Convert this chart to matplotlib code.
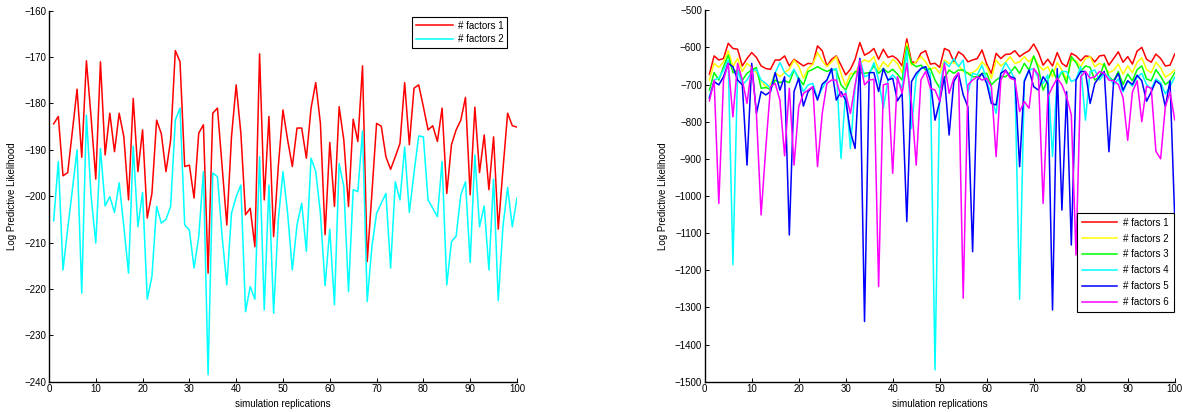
import numpy as np
import matplotlib
matplotlib.use('Agg')
import matplotlib.pyplot as plt

plt.rcParams['font.family'] = ['Liberation Sans', 'DejaVu Sans']
plt.rcParams['font.size'] = 7

reps = np.arange(1, 101)

# left panel: 1 and 2 factors
left_f1 = [-184.4, -182.8, -195.6, -194.9, -186.0, -176.9, -191.6, -170.8, -183.0, -196.3,
           -171.0, -191.1, -182.1, -190.4, -182.1, -187.2, -200.8, -178.9, -194.7, -185.7,
           -204.7, -199.4, -183.6, -186.5, -194.7, -187.9, -168.6, -171.0, -193.6, -193.3,
           -200.4, -186.4, -184.6, -216.6, -182.1, -181.0, -193.6, -206.2, -187.2, -176.0,
           -186.4, -204.0, -202.6, -210.9, -169.3, -200.8, -182.8, -208.7, -193.6, -181.4,
           -187.9, -193.6, -185.3, -185.3, -191.8, -181.0, -175.5, -184.3, -208.3, -188.4,
           -202.2, -180.7, -187.9, -202.2, -183.4, -188.2, -171.9, -214.1, -199.4, -184.3,
           -184.9, -191.5, -194.2, -191.5, -188.6, -175.5, -188.9, -176.7, -176.0, -180.7,
           -185.7, -184.8, -188.2, -181.0, -199.4, -188.9, -185.7, -183.6, -178.7, -199.7,
           -180.8, -194.9, -186.8, -198.6, -187.2, -207.1, -194.3, -182.1, -184.8, -185.1]
left_f2 = [-205.3, -192.5, -215.9, -207.0, -198.6, -190.0, -220.9, -182.5, -200.0, -210.1,
           -189.7, -202.1, -200.1, -203.5, -197.1, -206.6, -216.6, -189.2, -206.6, -199.2,
           -222.2, -217.3, -202.2, -205.8, -205.0, -202.2, -183.6, -181.0, -206.2, -207.3,
           -215.5, -208.7, -194.7, -238.5, -195.0, -195.8, -208.7, -219.1, -203.7, -200.1,
           -197.6, -224.9, -219.5, -222.2, -191.5, -224.5, -197.6, -225.2, -205.1, -194.7,
           -203.7, -215.9, -206.2, -201.5, -211.9, -191.8, -194.7, -203.7, -219.3, -207.1,
           -223.4, -193.0, -197.9, -220.6, -198.6, -199.0, -185.9, -222.7, -210.9, -203.7,
           -201.5, -199.4, -215.5, -196.9, -200.8, -189.4, -203.5, -195.0, -187.0, -187.2,
           -200.8, -202.6, -204.4, -192.5, -219.1, -209.8, -208.6, -199.7, -196.9, -214.3,
           -191.1, -206.6, -202.1, -215.9, -196.3, -222.5, -206.6, -198.1, -206.6, -200.4]

# right panel: 1 to 6 factors
right_f1 = [-672, -623, -634, -630, -589, -603, -605, -650, -630, -614,
            -627, -650, -657, -659, -634, -634, -623, -650, -632, -641,
            -650, -643, -645, -596, -609, -650, -632, -623, -648, -674,
            -659, -632, -587, -621, -614, -603, -632, -605, -627, -623,
            -632, -650, -577, -639, -641, -616, -609, -645, -643, -654,
            -603, -609, -639, -612, -621, -639, -634, -630, -607, -645,
            -670, -616, -630, -619, -618, -609, -625, -616, -609, -591,
            -614, -648, -632, -650, -614, -643, -652, -616, -623, -636,
            -623, -625, -639, -623, -621, -648, -630, -612, -640, -625,
            -645, -610, -600, -632, -640, -618, -630, -650, -648, -618]
right_f2 = [-688, -643, -654, -639, -609, -652, -630, -665, -643, -654,
            -668, -690, -706, -701, -668, -679, -668, -659, -634, -651,
            -683, -657, -645, -614, -636, -652, -639, -625, -670, -704,
            -670, -670, -643, -634, -639, -625, -661, -639, -652, -632,
            -643, -668, -589, -648, -639, -625, -639, -659, -654, -670,
            -634, -643, -641, -648, -665, -670, -668, -659, -639, -652,
            -683, -634, -650, -640, -625, -643, -639, -625, -639, -625,
            -648, -661, -652, -679, -641, -661, -686, -634, -636, -652,
            -630, -625, -652, -643, -650, -668, -662, -645, -672, -650,
            -668, -640, -628, -660, -668, -640, -655, -680, -672, -660]
right_f3 = [-715, -668, -688, -652, -621, -668, -661, -688, -670, -661,
            -654, -710, -708, -713, -688, -695, -690, -695, -661, -683,
            -701, -665, -659, -652, -659, -665, -659, -661, -701, -715,
            -686, -665, -668, -670, -668, -650, -670, -657, -668, -659,
            -672, -688, -598, -643, -652, -648, -661, -657, -688, -710,
            -683, -661, -670, -661, -661, -670, -679, -679, -670, -670,
            -701, -688, -679, -679, -668, -652, -670, -643, -661, -623,
            -657, -715, -688, -659, -690, -665, -697, -625, -641, -665,
            -650, -654, -688, -679, -643, -679, -690, -665, -700, -672,
            -690, -660, -650, -685, -690, -660, -678, -700, -690, -668]
right_f4 = [-733, -688, -683, -661, -634, -1185, -661, -701, -688, -665,
            -659, -688, -697, -710, -668, -641, -668, -679, -659, -688,
            -719, -701, -697, -737, -710, -688, -661, -657, -899, -715,
            -872, -706, -630, -679, -674, -641, -688, -764, -688, -674,
            -688, -710, -607, -818, -679, -657, -652, -670, -1468, -710,
            -639, -652, -630, -652, -634, -724, -670, -674, -648, -688,
            -733, -778, -670, -641, -661, -688, -1278, -688, -661, -657,
            -683, -697, -674, -894, -683, -665, -665, -692, -686, -652,
            -796, -665, -661, -688, -670, -679, -700, -685, -720, -690,
            -705, -680, -670, -700, -712, -685, -695, -725, -705, -680]
right_f5 = [-737, -692, -701, -679, -643, -652, -688, -701, -917, -643,
            -778, -719, -728, -719, -668, -715, -679, -1105, -719, -683,
            -758, -719, -706, -742, -699, -688, -657, -742, -719, -742,
            -827, -872, -630, -1338, -668, -668, -719, -657, -688, -683,
            -744, -724, -1069, -692, -670, -657, -652, -688, -796, -746,
            -679, -836, -692, -670, -728, -760, -1150, -688, -670, -697,
            -751, -755, -670, -661, -679, -683, -921, -692, -661, -706,
            -715, -679, -697, -1307, -657, -1038, -719, -1132, -688, -665,
            -665, -751, -697, -679, -665, -881, -692, -670, -715, -690,
            -700, -675, -690, -745, -720, -690, -700, -760, -690, -1060]
right_f6 = [-744, -688, -1020, -688, -643, -787, -643, -688, -751, -652,
            -778, -1051, -870, -706, -697, -742, -892, -710, -917, -760,
            -724, -715, -706, -921, -778, -697, -688, -688, -733, -724,
            -778, -701, -634, -701, -688, -686, -1244, -701, -697, -939,
            -679, -724, -643, -751, -917, -688, -665, -710, -715, -746,
            -643, -724, -683, -668, -1275, -701, -688, -679, -688, -683,
            -706, -894, -688, -663, -683, -688, -773, -746, -764, -657,
            -674, -1020, -733, -706, -683, -701, -733, -782, -1159, -679,
            -665, -683, -679, -665, -670, -688, -690, -700, -735, -850,
            -720, -690, -800, -705, -710, -880, -900, -760, -720, -795]

left_labels = ['# factors 1', '# factors 2']
right_labels = ['# factors %d' % k for k in range(1, 7)]
left_colors = ['#ff0000', '#00ffff']
right_colors = ['#ff0000', '#ffff00', '#00ff00', '#00ffff', '#0000ff', '#ff00ff']


def style_axes(ax):
    ax.spines['top'].set_visible(False)
    ax.spines['right'].set_visible(False)
    ax.spines['left'].set_linewidth(1.0)
    ax.spines['bottom'].set_linewidth(1.0)
    ax.tick_params(direction='in', length=3, width=0.7, labelsize=7, pad=2)
    ax.set_xlim(0, 100)
    ax.set_xticks(range(0, 101, 10))
    ax.set_xlabel('simulation replications', fontsize=7, labelpad=3)
    ax.set_ylabel('Log Predictive Likelihood', fontsize=7, labelpad=5)


fig = plt.figure(figsize=(11.83, 4.12), dpi=100)

ax1 = fig.add_axes([0.0414, 0.0735, 0.3956, 0.9005])
for vals, c, lab in zip([left_f1, left_f2], left_colors, left_labels):
    ax1.plot(reps, vals, color=c, lw=1.1, label=lab)
ax1.set_ylim(-240, -160)
ax1.set_yticks(range(-240, -159, 10))
style_axes(ax1)
leg1 = ax1.legend(loc='upper right', bbox_to_anchor=(0.99, 0.995), fontsize=7,
                  fancybox=False, edgecolor='black', framealpha=1, handlelength=3.8,
                  borderpad=0.35, labelspacing=0.35, handletextpad=0.6)
leg1.get_frame().set_linewidth(0.8)

ax2 = fig.add_axes([0.5957, 0.0735, 0.3973, 0.9017])
for vals, c, lab in zip([right_f1, right_f2, right_f3, right_f4, right_f5, right_f6],
                        right_colors, right_labels):
    ax2.plot(reps, vals, color=c, lw=1.1, label=lab)
ax2.set_ylim(-1500, -500)
ax2.set_yticks(range(-1500, -499, 100))
style_axes(ax2)
leg2 = ax2.legend(loc='lower right', bbox_to_anchor=(1.008, 0.175), fontsize=7,
                  fancybox=False, edgecolor='black', framealpha=1, handlelength=3.6,
                  borderpad=0.5, labelspacing=0.6, handletextpad=0.6)
leg2.get_frame().set_linewidth(0.8)

fig.savefig('out.png', dpi=100)
